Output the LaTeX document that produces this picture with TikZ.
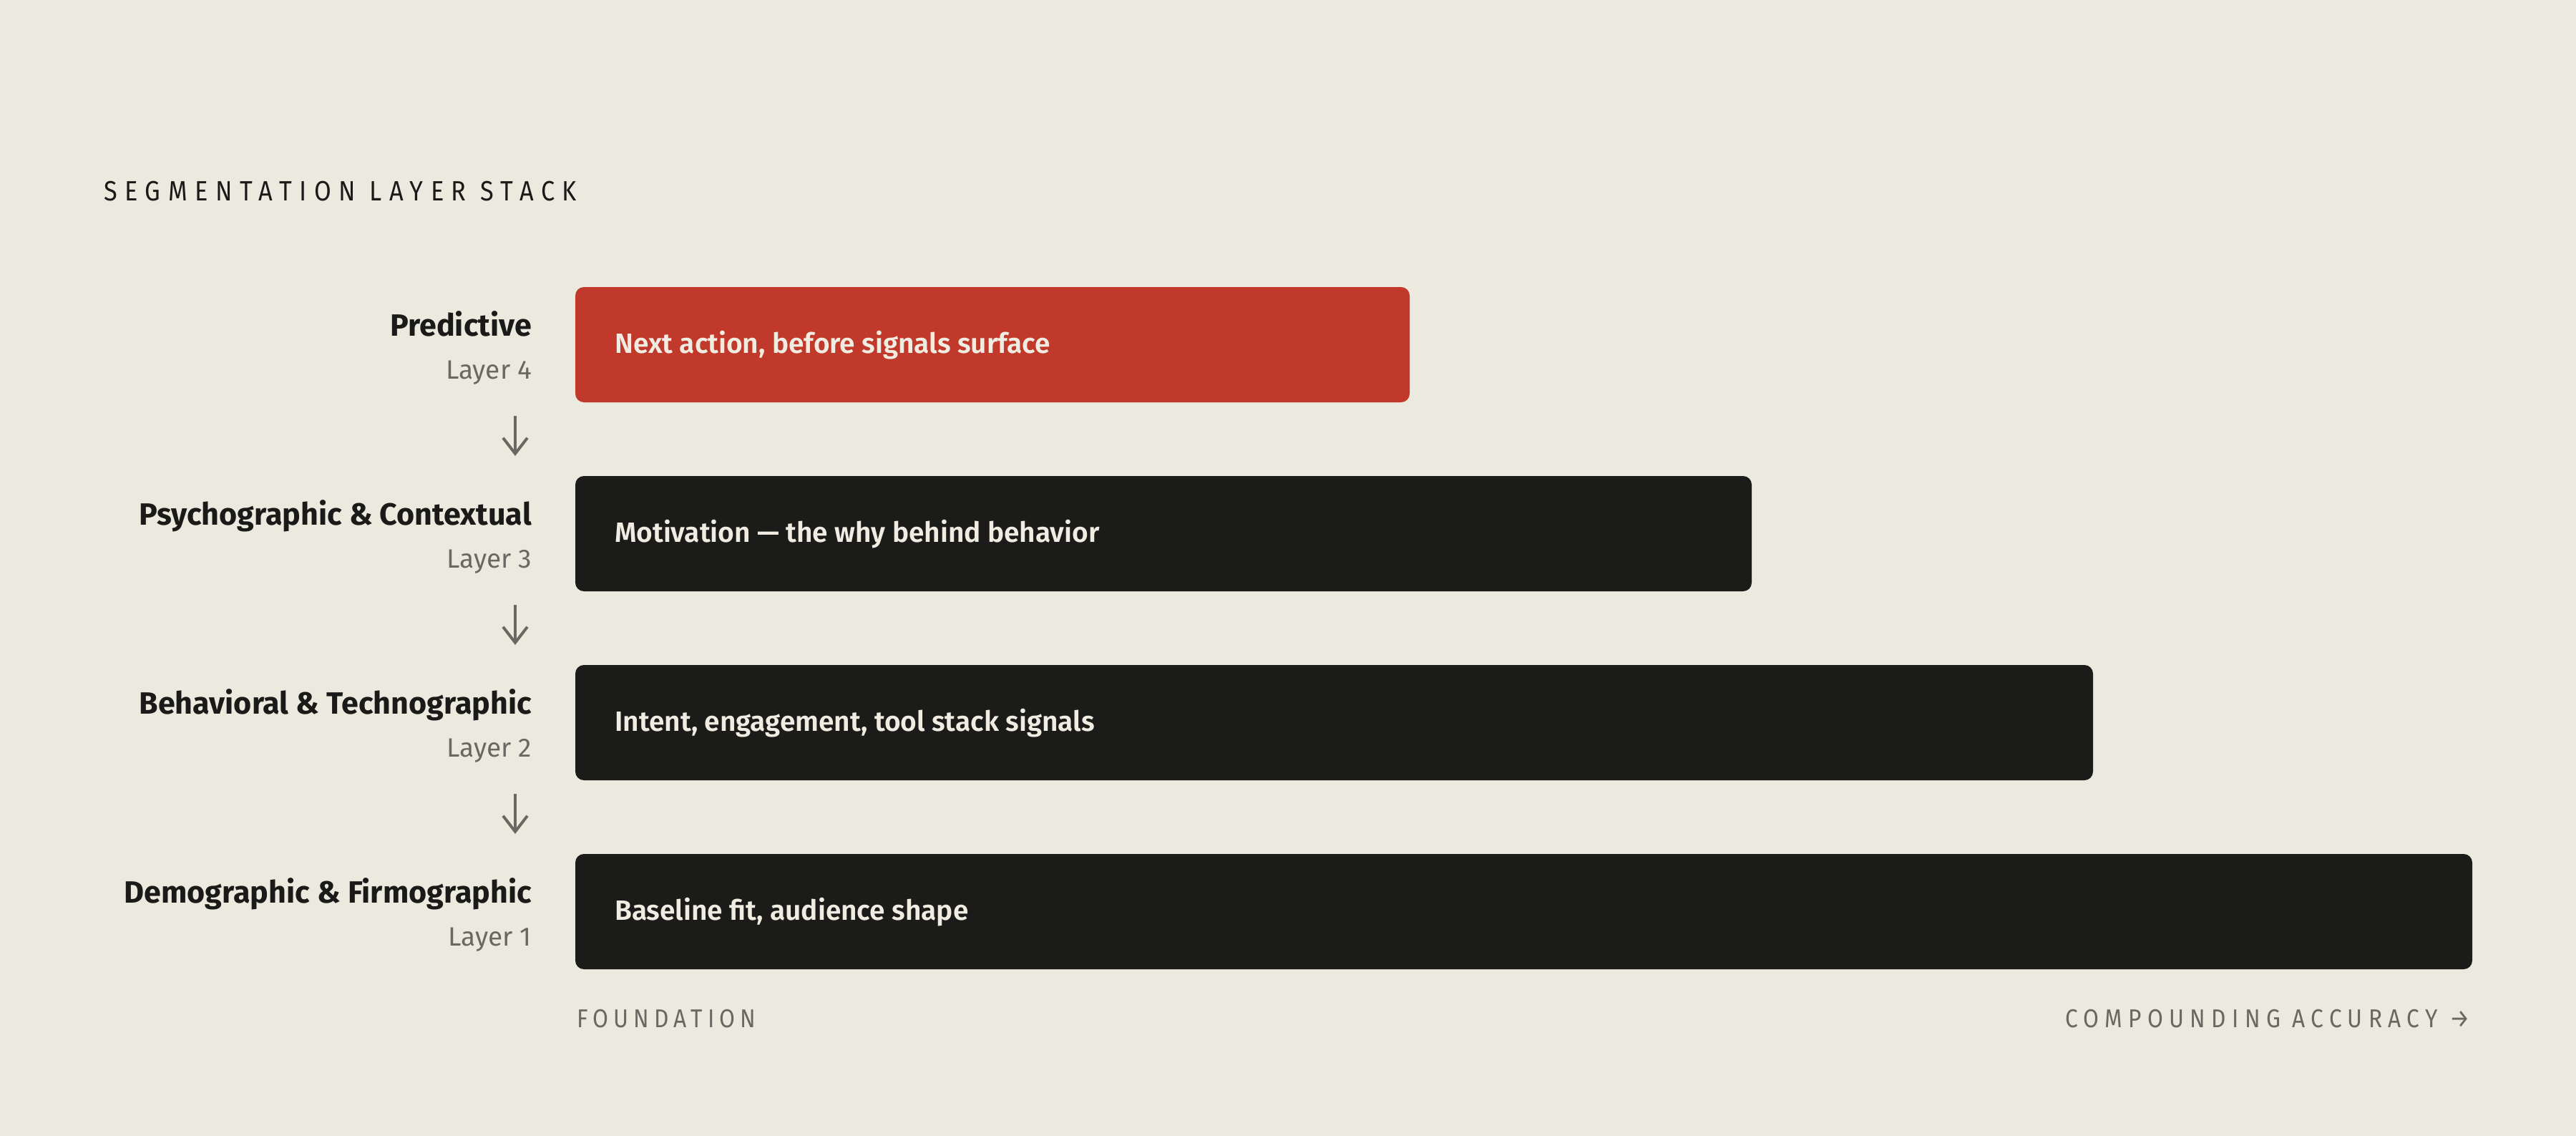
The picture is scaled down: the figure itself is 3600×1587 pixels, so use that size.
\documentclass[tikz,border=0pt]{standalone}
\usepackage{fontspec}
\usetikzlibrary{arrows.meta}
\IfFontExistsTF{FiraSans-Light.otf}{\newfontfamily\flight{FiraSans-Light.otf}}{\newfontfamily\flight{Fira Sans}}
\IfFontExistsTF{FiraSans-SemiBold.otf}{\newfontfamily\fmed{FiraSans-SemiBold.otf}[FakeStretch=0.995]}{\IfFontExistsTF{Fira Sans SemiBold}{\newfontfamily\fmed{Fira Sans SemiBold}[FakeStretch=0.995]}{\newfontfamily\fmed{Fira Sans}[FakeBold=1.2]}}
\IfFontExistsTF{FiraSans-Bold.otf}{\newfontfamily\fbold{FiraSans-Bold.otf}}{\newfontfamily\fbold{Fira Sans Bold}}
\IfFontExistsTF{FiraSans-Light.otf}{\newfontfamily\fspaced{FiraSans-Light.otf}[FakeStretch=0.88,LetterSpace=20]}{\newfontfamily\fspaced{Fira Sans}[FakeStretch=0.88,LetterSpace=20]}
\IfFontExistsTF{FiraSans-Light.otf}{\newfontfamily\fspacedb{FiraSans-Light.otf}[FakeStretch=0.88,LetterSpace=23]}{\newfontfamily\fspacedb{Fira Sans}[FakeStretch=0.88,LetterSpace=23]}
\IfFontExistsTF{FiraSans-Light.otf}{\newfontfamily\ftitle{FiraSans-Light.otf}[FakeStretch=0.88,LetterSpace=27]}{\newfontfamily\ftitle{Fira Sans}[FakeStretch=0.88,LetterSpace=27]}
\definecolor{bgc}{RGB}{236,233,223}
\definecolor{redc}{RGB}{192,57,43}
\definecolor{darkc}{RGB}{27,27,25}
\definecolor{creamc}{RGB}{240,236,226}
\definecolor{inkc}{RGB}{26,26,25}
\definecolor{grayc}{RGB}{105,104,98}
\tikzset{
  layerbox/.style={fill=darkc, rounded corners=12pt, draw=none},
  boxtext/.style={anchor=base west, inner sep=0pt, text=creamc, font=\fmed\fontsize{39}{44}\selectfont},
  namelabel/.style={anchor=base east, inner sep=0pt, text=inkc, font=\fbold\fontsize{43}{48}\selectfont},
  layerlabel/.style={anchor=base east, inner sep=0pt, text=grayc, font=\flight\fontsize{37}{42}\selectfont},
  flowarrow/.style={draw=grayc, line width=4pt, -{Straight Barb[length=22pt,width=34pt,line width=4pt]}},
  axislabel/.style={inner sep=0pt, text=grayc, font=\fspaced\fontsize{36}{40}\selectfont},
}
\begin{document}
\begin{tikzpicture}[x=1pt,y=-1pt]
\fill[bgc] (0,0) rectangle (3600,1587);
\useasboundingbox (0,0) rectangle (3600,1587);
% title
\node[anchor=base west, inner sep=0pt, text=inkc, font=\ftitle\fontsize{39}{44}\selectfont] (title) at (145,280) {SEGMENTATION LAYER STACK};
% boxes
\path[layerbox, fill=redc] (804,401) rectangle (1970,562);
\path[layerbox] (804,665) rectangle (2448,826);
\path[layerbox] (804,929) rectangle (2925,1090);
\path[layerbox] (804,1193) rectangle (3455,1354);
\node[boxtext] (t4) at (859,493) {Next action, before signals surface};
\node[boxtext] (t3) at (859,757) {Motivation — the why behind behavior};
\node[boxtext] (t2) at (859,1021) {Intent, engagement, tool stack signals};
\node[boxtext] (t1) at (859,1285) {Baseline fit, audience shape};
% left labels
\node[namelabel] (n4) at (743,469) {Predictive};
\node[layerlabel] (l4) at (743,529) {Layer 4};
\node[namelabel] (n3) at (743,733) {Psychographic \& Contextual};
\node[layerlabel] (l3) at (743,793) {Layer 3};
\node[namelabel] (n2) at (743,997) {Behavioral \& Technographic};
\node[layerlabel] (l2) at (743,1057) {Layer 2};
\node[namelabel] (n1) at (743,1261) {Demographic \& Firmographic};
\node[layerlabel] (l1) at (743,1321) {Layer 1};
% arrows
\coordinate (a4s) at (720,581); \coordinate (a4e) at (720,637);
\coordinate (a3s) at (720,845); \coordinate (a3e) at (720,901);
\coordinate (a2s) at (720,1109); \coordinate (a2e) at (720,1165);
\draw[flowarrow] (a4s) -- (a4e);
\draw[flowarrow] (a3s) -- (a3e);
\draw[flowarrow] (a2s) -- (a2e);
% axis labels
\node[axislabel, anchor=base west] (found) at (806,1435) {FOUNDATION};
\node[axislabel, anchor=base east, font=\fspacedb\fontsize{36}{40}\selectfont] (comp) at (3452,1435) {COMPOUNDING ACCURACY →};
\end{tikzpicture}
\end{document}
